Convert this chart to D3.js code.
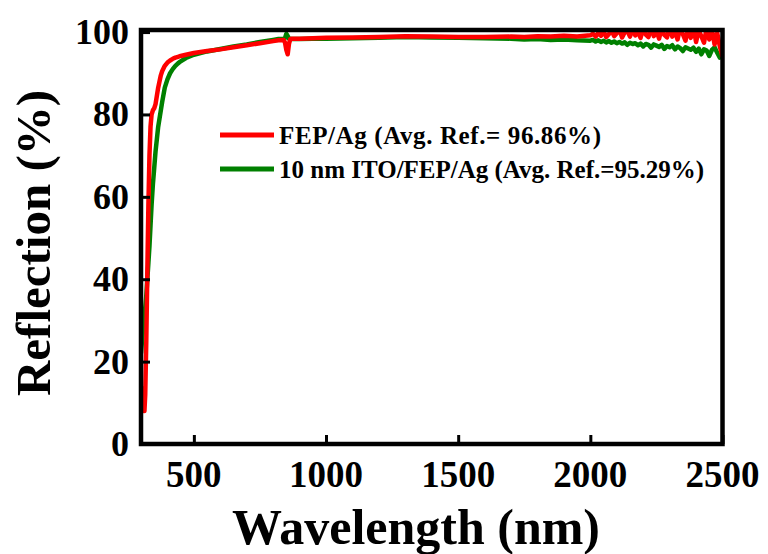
<!DOCTYPE html>
<html>
<head>
<meta charset="utf-8">
<script src="https://cdn.jsdelivr.net/npm/d3@7"></script>
<style>
  html, body { margin: 0; padding: 0; background: #fff; }
  svg { display: block; }
  text { font-family: "Liberation Serif", "Times New Roman", serif; font-weight: bold; fill: #000; }
</style>
</head>
<body>
<svg id="chart" width="768" height="554"></svg>
<script>
// ---------- data ----------
const wavelengths = [
  300, 305, 310, 313, 316, 320, 324, 328, 332, 336,
  340, 345, 350, 355, 360, 365, 370, 375, 380, 390,
  400, 410, 420, 430, 440, 450, 470, 500, 550, 600,
  650, 700, 750, 800, 820, 840, 845, 850, 855, 860,
  865, 870, 900, 950, 1000, 1100, 1200, 1300, 1400, 1500,
  1600, 1700, 1750, 1800, 1850, 1900, 1950,
  2000, 2010, 2020, 2030, 2040, 2050, 2060, 2070, 2080, 2090,
  2100, 2110, 2120, 2130, 2140, 2150, 2160, 2170, 2180, 2190,
  2200, 2210, 2220, 2230, 2240, 2250, 2260, 2270, 2280, 2290,
  2300, 2310, 2320, 2330, 2340, 2350, 2360, 2370, 2380, 2390,
  2400, 2410, 2420, 2430, 2440, 2450, 2460, 2470, 2480, 2490,
  2500
];
const fepAg = [
  14, 11, 8, 8, 12, 25, 42, 58, 70, 77,
  80, 81, 81.5, 82.5, 84.5, 86.5, 88, 89.5, 90.5, 91.8,
  92.6, 93.1, 93.5, 93.8, 94.0, 94.2, 94.5, 94.9, 95.4, 95.8,
  96.3, 96.8, 97.3, 97.8, 98.0, 98.1, 97.4, 95.6, 94.6, 97.2,
  98.3, 98.4, 98.4, 98.5, 98.6, 98.7, 98.8, 99.0, 98.9, 98.8,
  98.8, 98.9, 98.8, 99.0, 98.9, 99.1, 98.9,
  99.2, 99.6, 98.9, 99.8, 99.1, 100.2, 98.8, 99.5, 100.4, 99.0,
  99.7, 100.6, 98.7, 99.9, 100.3, 98.9, 100.8, 99.2, 100.1, 98.6,
  100.9, 99.4, 98.8, 101.2, 99.0, 100.5, 98.4, 101.0, 99.3, 98.7,
  101.3, 98.9, 100.2, 98.2, 101.1, 99.5, 97.9, 100.8, 98.6, 101.2,
  97.6, 100.4, 99.0, 97.4, 101.0, 98.2, 100.6, 97.0, 99.8, 96.5,
  94.0
];
const itoFepAg = [
  22, 26, 29, 31, 33, 36, 40, 44, 48, 53,
  58, 63, 67, 71, 74, 77, 79, 81, 83, 86.5,
  88.5, 90, 91, 91.8, 92.4, 92.9, 93.7, 94.5, 95.3, 95.9,
  96.5, 97.0, 97.6, 98.1, 98.3, 98.3, 98.6, 99.6, 99.0, 98.4,
  98.3, 98.3, 98.3, 98.4, 98.4, 98.5, 98.6, 98.8, 98.7, 98.6,
  98.5, 98.4, 98.2, 98.3, 98.1, 98.2, 98.0,
  97.9, 98.1, 97.7, 98.0, 97.6, 97.9, 97.5, 97.8, 97.4, 97.7,
  97.3, 97.6, 97.2, 97.5, 96.9, 97.4, 97.1, 97.3, 96.8, 97.2,
  96.5, 97.1, 96.9, 96.2, 97.0, 96.7, 96.4, 96.9, 95.9, 96.6,
  96.3, 96.8, 95.8, 96.5, 96.1, 95.4, 96.3, 96.0, 95.7, 96.2,
  95.2, 96.0, 94.6, 95.8, 95.5, 94.2, 95.7, 96.3, 95.0, 93.8,
  94.5
];
const seriesNames = ["FEP/Ag (Avg. Ref.= 96.86%)", "10 nm ITO/FEP/Ag (Avg. Ref.=95.29%)"];
const seriesColors = ["#ff0000", "#008000"];
const xTicks = [500, 1000, 1500, 2000, 2500];
const yTicks = [0, 20, 40, 60, 80, 100];
const xTitle = "Wavelength (nm)";
const yTitle = "Reflection (%)";

// ---------- layout ----------
const svg = d3.select("#chart");
const L = 141, R = 722.5, T = 30, B = 444;
const x = d3.scaleLinear().domain([300, 2500]).range([L, R]);
const y = d3.scaleLinear().domain([0, 100.5]).range([B, T]);

svg.append("rect").attr("width", 768).attr("height", 554).attr("fill", "#fff");

svg.append("defs").append("clipPath").attr("id", "plotclip")
  .append("rect").attr("x", L).attr("y", T).attr("width", R - L).attr("height", B - T);

const line = d3.line().x(d => x(d[0])).y(d => y(d[1]));
const g = svg.append("g").attr("clip-path", "url(#plotclip)");

const green = wavelengths.map((w, i) => [w, itoFepAg[i]]);
const red = wavelengths.map((w, i) => [w, fepAg[i]]);
g.append("path").datum(green).attr("d", line).attr("fill", "none")
  .attr("stroke", seriesColors[1]).attr("stroke-width", 4.5).attr("stroke-linejoin", "round");
g.append("path").datum(red).attr("d", line).attr("fill", "none")
  .attr("stroke", seriesColors[0]).attr("stroke-width", 4.5).attr("stroke-linejoin", "round");

// axes (ticks inward)
const xAxis = d3.axisTop(x).tickValues(xTicks).tickSize(9).tickFormat("");
const yAxis = d3.axisRight(y).tickValues(yTicks).tickSize(9).tickFormat("");
const xa = svg.append("g").attr("transform", `translate(0,${B})`).call(xAxis);
const ya = svg.append("g").attr("transform", `translate(${L},0)`).call(yAxis);
[xa, ya].forEach(a => {
  a.select(".domain").remove();
  a.selectAll(".tick line").attr("stroke", "#000").attr("stroke-width", 3);
});

// tick labels
svg.append("g").selectAll("text").data(xTicks).join("text")
  .attr("x", d => x(d)).attr("y", 487)
  .attr("text-anchor", "middle").attr("font-size", 37).text(d => d);
svg.append("g").selectAll("text").data(yTicks).join("text")
  .attr("x", 129).attr("y", d => y(d) + 12)
  .attr("text-anchor", "end").attr("font-size", 36).text(d => d);

// frame
svg.append("rect").attr("x", L).attr("y", T).attr("width", R - L).attr("height", B - T)
  .attr("fill", "none").attr("stroke", "#000").attr("stroke-width", 4.5);

// titles
svg.append("text").attr("x", 416).attr("y", 544).attr("text-anchor", "middle")
  .attr("font-size", 50).text(xTitle);
svg.append("text").attr("transform", "translate(50,243) rotate(-90)")
  .attr("text-anchor", "middle").attr("font-size", 49).text(yTitle);

// legend
const legY = [135, 169];
const legText = [322, null];
const leg = svg.append("g");
seriesNames.forEach((name, i) => {
  leg.append("line").attr("x1", 220).attr("x2", 274).attr("y1", legY[i]).attr("y2", legY[i])
    .attr("stroke", seriesColors[i]).attr("stroke-width", 5);
  const t = leg.append("text").attr("x", 279).attr("y", legY[i] + 8.5)
    .attr("font-size", 25).text(name);
  if (legText[i]) t.attr("textLength", legText[i]).attr("lengthAdjust", "spacing");
});
</script>
</body>
</html>
